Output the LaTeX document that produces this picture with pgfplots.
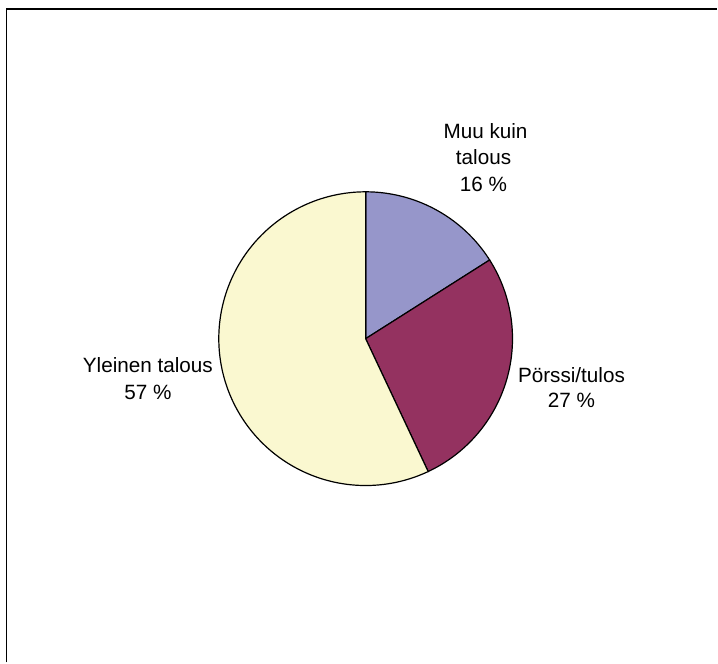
\documentclass[border=0pt]{standalone}
\usepackage{pgfplots}
\usepackage{pgfplotstable}
\pgfplotsset{compat=1.18}
\usepackage{fontspec}
\setmainfont{Liberation Sans}

\definecolor{muu}{RGB}{150,150,202}
\definecolor{porssi}{RGB}{148,50,96}
\definecolor{yleinen}{RGB}{250,248,208}

% osuudet prosentteina
\pgfplotstableread{
osa arvo
muu 16
porssi 27
yleinen 57
}\osuudet

\pgfplotstablegetelem{0}{arvo}\of\osuudet \let\vA\pgfplotsretval
\pgfplotstablegetelem{1}{arvo}\of\osuudet \let\vB\pgfplotsretval
\pgfplotstablegetelem{2}{arvo}\of\osuudet \let\vC\pgfplotsretval
\pgfmathsetmacro{\aA}{90}
\pgfmathsetmacro{\aB}{\aA-3.6*\vA}
\pgfmathsetmacro{\aC}{\aB-3.6*\vB}
\pgfmathsetmacro{\aD}{\aC-3.6*\vC}

\newcommand{\cx}{366}
\newcommand{\cy}{324}
\newcommand{\rr}{147}

\begin{document}
\begin{tikzpicture}
\begin{axis}[
    x=1pt, y=1pt,
    xmin=0, xmax=718, ymin=0, ymax=663,
    hide axis, clip=false,
    scale only axis,
]
\path (axis cs:0,0) rectangle (axis cs:718,663);
\draw[line width=1.4pt] (axis cs:6.5,0) -- (axis cs:6.5,654) -- (axis cs:718,654);

\addplot[fill=muu, draw=black, line width=1.2pt, domain=\aB:\aA, samples=60]
    ({\cx+\rr*cos(x)},{\cy+\rr*sin(x)}) -- (axis cs:\cx,\cy) -- cycle;
\addplot[fill=porssi, draw=black, line width=1.2pt, domain=\aC:\aB, samples=80]
    ({\cx+\rr*cos(x)},{\cy+\rr*sin(x)}) -- (axis cs:\cx,\cy) -- cycle;
\addplot[fill=yleinen, draw=black, line width=1.2pt, domain=\aD:\aC, samples=160]
    ({\cx+\rr*cos(x)},{\cy+\rr*sin(x)}) -- (axis cs:\cx,\cy) -- cycle;

\tikzset{lbl/.style={anchor=base, font=\fontsize{20.7}{25}\selectfont}}
\node[lbl] at (axis cs:486,524) {Muu kuin};
\node[lbl] at (axis cs:484,498) {talous};
\node[lbl] at (axis cs:484,471) {16 \%};
\node[lbl] at (axis cs:572,280) {Pörssi/tulos};
\node[lbl] at (axis cs:572,255) {27 \%};
\node[lbl] at (axis cs:148,290) {Yleinen talous};
\node[lbl] at (axis cs:148,263) {57 \%};
\end{axis}
\end{tikzpicture}
\end{document}
